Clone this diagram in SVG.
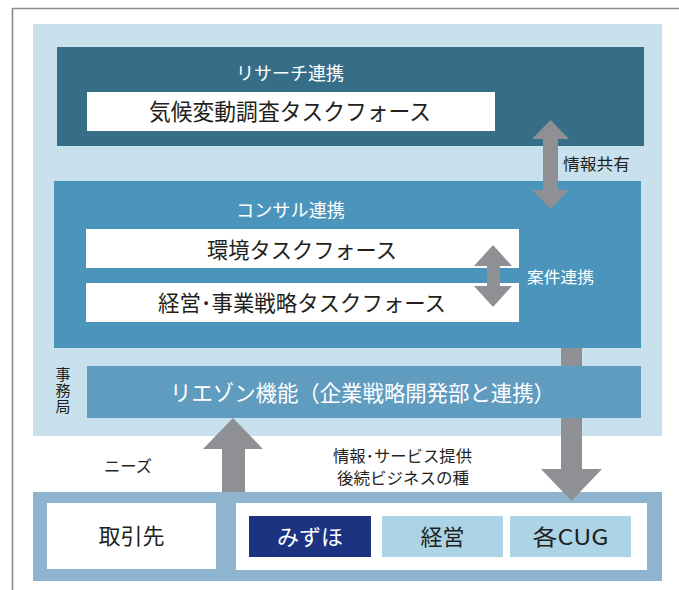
<svg xmlns="http://www.w3.org/2000/svg" width="679" height="590" viewBox="0 0 679 590">
<style>
text{font-family:"Noto Sans CJK JP","Noto Sans",sans-serif;text-anchor:middle}
.dk{fill:#231f20}
.wt{fill:#ffffff}
.arrow{fill:#8e9094}
.wbox{fill:#ffffff}
</style>
<rect x="0" y="0" width="679" height="590" fill="#ffffff"/>
<path d="M12.5 590 V8.5 H679" fill="none" stroke="#8c8c8c" stroke-width="1.6"/>
<rect x="33" y="24" width="629" height="412" fill="#c8e1ec"/>
<g id="bottom-panel">
<rect x="33" y="492" width="629" height="89" fill="#8fb4d0"/>
<rect x="236" y="503" width="411" height="67" fill="#ffffff"/>
</g>
<g id="research">
<rect x="57" y="47" width="587" height="99" fill="#366e87"/>
<text x="290" y="80" font-size="18" class="wt" textLength="108" lengthAdjust="spacingAndGlyphs">リサーチ連携</text>
</g>
<g id="climate-tf">
<rect x="87" y="92" width="408" height="39" class="wbox"/>
<text x="290" y="120" font-size="23" class="dk" textLength="282" lengthAdjust="spacingAndGlyphs">気候変動調査タスクフォース</text>
</g>
<g id="consult">
<rect x="54" y="181" width="587" height="167" fill="#4b95bd"/>
<text x="290.5" y="217" font-size="18" class="wt" textLength="109" lengthAdjust="spacingAndGlyphs">コンサル連携</text>
</g>
<g id="env-tf">
<rect x="86" y="229" width="433" height="39" class="wbox"/>
<text x="302" y="258" font-size="22" class="dk" textLength="190" lengthAdjust="spacingAndGlyphs">環境タスクフォース</text>
</g>
<g id="mgmt-tf">
<rect x="86" y="283" width="433" height="39" class="wbox"/>
<text x="302" y="311" font-size="22" class="dk" textLength="288" lengthAdjust="spacingAndGlyphs">経営･事業戦略タスクフォース</text>
</g>
<g id="connectors">
<polygon class="arrow" points="550.5,120 569,139 558,139 558,190 569,190 550.5,209 532,190 543,190 543,139 532,139"/>
<polygon class="arrow" points="493,245 512,266 500,266 500,286 512,286 493,307 474,286 487,286 487,266 474,266"/>
<polygon class="arrow" points="233,418 263,449 245,449 245,492 222,492 222,449 203,449"/>
<polygon class="arrow" points="561,348 582,348 582,469 602,469 571.5,501 541,469 561,469"/>
<text x="596.5" y="170" font-size="16" class="dk" textLength="67" lengthAdjust="spacingAndGlyphs">情報共有</text>
<text x="560.5" y="283" font-size="16" class="wt" textLength="67" lengthAdjust="spacingAndGlyphs">案件連携</text>
<text x="128" y="472" font-size="16" class="dk" textLength="48" lengthAdjust="spacingAndGlyphs">ニーズ</text>
<text x="402.5" y="462" font-size="16" class="dk" textLength="139" lengthAdjust="spacingAndGlyphs">情報･サービス提供</text>
<text x="403" y="484" font-size="16" class="dk" textLength="132" lengthAdjust="spacingAndGlyphs">後続ビジネスの種</text>
</g>
<g id="liaison">
<rect x="87" y="366" width="554" height="52" fill="#5f9cc0"/>
<text x="362.5" y="401" font-size="22" class="wt" textLength="385" lengthAdjust="spacingAndGlyphs">リエゾン機能（企業戦略開発部と連携）</text>
</g>
<g id="secretariat">
<text x="63" y="367" font-size="15" class="dk" writing-mode="tb" style="text-anchor:start;writing-mode:vertical-rl" letter-spacing="1">事務局</text>
</g>
<g id="client">
<rect x="47" y="503" width="169" height="66" class="wbox"/>
<text x="131.5" y="544" font-size="22" class="dk">取引先</text>
</g>
<g id="mizuho">
<rect x="249" y="516" width="122" height="41" fill="#1b3380"/>
<text x="310" y="545" font-size="22" class="wt">みずほ</text>
</g>
<g id="keiei">
<rect x="382" y="516" width="121" height="41" fill="#abd4e6"/>
<text x="442.5" y="545" font-size="22" class="dk">経営</text>
</g>
<g id="cug">
<rect x="510" y="516" width="121" height="41" fill="#abd4e6"/>
<text x="570.5" y="545" font-size="22" class="dk" textLength="76" lengthAdjust="spacingAndGlyphs">各CUG</text>
</g>
</svg>
